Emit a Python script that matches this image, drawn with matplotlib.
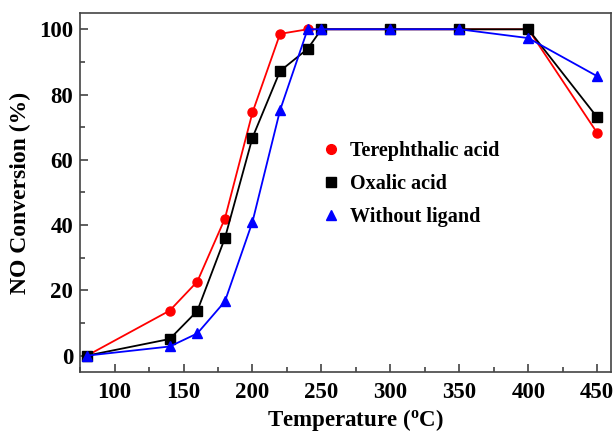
import matplotlib
matplotlib.use("Agg")
import matplotlib.pyplot as plt
from matplotlib.lines import Line2D
from matplotlib.ticker import MultipleLocator

temps = [80, 140, 160, 180, 200, 220, 240, 250, 300, 350, 400, 450]
terephthalic = [0, 13.8, 22.7, 42, 74.5, 98.6, 100, 100, 100, 100, 100, 68.2]
oxalic = [0, 5.1, 13.7, 36, 66.8, 87.2, 94, 100, 100, 100, 100, 73]
no_ligand = [0, 2.8, 6.8, 16.6, 41, 75.2, 100, 100, 100, 100, 97.3, 85.6]

labels = ["Terephthalic acid", "Oxalic acid", "Without ligand"]
colors = ["#ff0000", "#000000", "#0000ff"]
markers = ["o", "s", "^"]

plt.rcParams["font.family"] = ["Liberation Serif", "DejaVu Serif"]
plt.rcParams["font.weight"] = "bold"
plt.rcParams["mathtext.default"] = "regular"

fig = plt.figure(figsize=(6.16, 4.32), dpi=100)
ax = fig.add_axes([0.13, 0.139, 0.862, 0.831])

for ys, c, m in zip([terephthalic, oxalic, no_ligand], colors, markers):
    ax.plot(temps, ys, color=c, marker=m, markersize=6.5, lw=1.3)

ax.set_xlim(75, 460)
ax.set_ylim(-5, 105)
ax.xaxis.set_major_locator(MultipleLocator(50))
ax.xaxis.set_minor_locator(MultipleLocator(25))
ax.yaxis.set_major_locator(MultipleLocator(20))
ax.yaxis.set_minor_locator(MultipleLocator(10))
ax.tick_params(which="both", direction="in", top=False, right=False, labelsize=16.5,
               width=1.1, color="#333333")
ax.tick_params(which="major", length=6)
ax.tick_params(which="minor", length=3.5)
ax.tick_params(axis="x", which="major", pad=7)
ax.tick_params(axis="y", which="major", pad=5)
for s in ax.spines.values():
    s.set_color("#444444")
    s.set_linewidth(1.2)

ax.set_xlabel("Temperature ($^{o}$C)", fontsize=16.5, fontweight="bold", labelpad=3, x=0.518)
ax.set_ylabel("NO Conversion (%)", fontsize=17, fontweight="bold", labelpad=6)

handles = [Line2D([], [], color=c, marker=m, linestyle="none", markersize=7)
           for c, m in zip(colors, markers)]
ax.legend(handles, labels, loc="upper left", bbox_to_anchor=(0.415, 0.695), frameon=False,
          prop={"size": 14.5, "weight": "bold"}, handletextpad=0.35, labelspacing=0.65,
          handlelength=1.2)

fig.savefig("out.png", dpi=100)
